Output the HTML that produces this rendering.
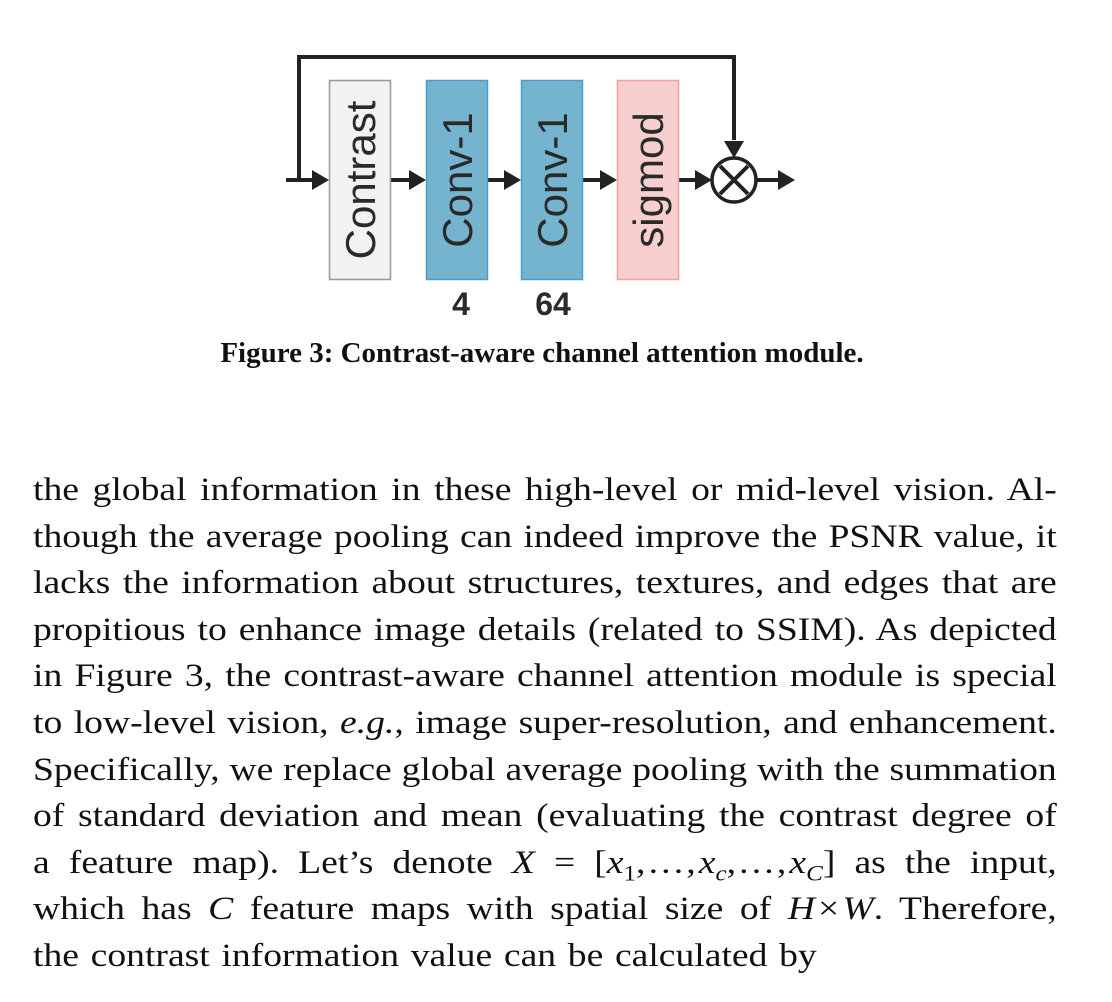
<!DOCTYPE html>
<html><head><meta charset="utf-8"><style>
html,body{margin:0;padding:0;background:#fff;width:1112px;height:1002px;overflow:hidden}
.p{position:absolute;left:33px;width:898px;font-family:"Liberation Serif",serif;font-size:33px;color:#111;transform:scaleX(1.14);transform-origin:0 0}
.l{height:46.6px;line-height:46.6px;text-align:justify;text-align-last:justify;white-space:nowrap}
.l.last{text-align-last:left;word-spacing:2px}
</style></head><body>
<svg width="1112" height="420" style="position:absolute;left:0;top:0" xmlns="http://www.w3.org/2000/svg">
<g stroke="#222" stroke-width="4" fill="none">
<path d="M286,180 H312"/><path d="M299,180 V57 H734 V140"/>
<path d="M391,180 H410"/><path d="M488,180 H505"/><path d="M583,180 H601"/><path d="M679,180 H697"/><path d="M757,180 H780"/>
<circle cx="734" cy="180" r="22" stroke-width="3.5"/>
<path d="M720,166 L748,194 M748,166 L720,194" stroke-width="4"/>
</g>
<g fill="#222">
<path d="M329,180 l-17,-10 v20z"/><path d="M426,180 l-17,-10 v20z"/><path d="M521,180 l-17,-10 v20z"/><path d="M617,180 l-17,-10 v20z"/><path d="M712,180 l-17,-10 v20z"/><path d="M795,180 l-17,-10 v20z"/><path d="M734,158 l-10,-17 h20z"/>
</g>
<rect x="329.5" y="80.5" width="61" height="199" fill="#f2f2f2" stroke="#999" stroke-width="1.5"/>
<rect x="426.5" y="80.5" width="61" height="199" fill="#74b4cf" stroke="#4a9bd0" stroke-width="1.5"/>
<rect x="521.5" y="80.5" width="61" height="199" fill="#74b4cf" stroke="#4a9bd0" stroke-width="1.5"/>
<rect x="617.5" y="80.5" width="61" height="199" fill="#f7cfcf" stroke="#f0a0a0" stroke-width="1.5"/>
<g font-family="Liberation Sans, sans-serif" font-size="42" fill="#2a2a2a" text-anchor="middle">
<text transform="translate(375,180) rotate(-90)">Contrast</text>
<text transform="translate(472,180) rotate(-90)">Conv-1</text>
<text transform="translate(567,180) rotate(-90)">Conv-1</text>
<text transform="translate(663,180) rotate(-90)">sigmod</text>
</g>
<g font-family="Liberation Sans, sans-serif" font-size="32" font-weight="bold" fill="#2a2a2a" text-anchor="middle">
<text x="461" y="315">4</text><text x="553" y="315">64</text>
</g>
<text x="542" y="362" text-anchor="middle" font-family="Liberation Serif, serif" font-size="29" font-weight="bold" fill="#111">Figure 3: Contrast-aware channel attention module.</text>
</svg>
<div class="p" style="top:467px">
<div class="l">the global information in these high-level or mid-level vision. Al-</div>
<div class="l">though the average pooling can indeed improve the PSNR value, it</div>
<div class="l">lacks the information about structures, textures, and edges that are</div>
<div class="l">propitious to enhance image details (related to SSIM). As depicted</div>
<div class="l">in Figure 3, the contrast-aware channel attention module is special</div>
<div class="l">to low-level vision, <i>e.g.</i>, image super-resolution, and enhancement.</div>
<div class="l">Specifically, we replace global average pooling with the summation</div>
<div class="l">of standard deviation and mean (evaluating the contrast degree of</div>
<div class="l">a feature map). Let’s denote <i>X</i> = [<i>x</i><sub style="font-size:22px">1</sub>,&#8202;.&#8202;.&#8202;.&#8202;,&#8202;<i>x<sub style="font-size:22px">c</sub></i>,&#8202;.&#8202;.&#8202;.&#8202;,&#8202;<i>x<sub style="font-size:22px">C</sub></i>] as the input,</div>
<div class="l">which has <i>C</i> feature maps with spatial size of <i>H</i>&#8202;×&#8202;<i>W</i>. Therefore,</div>
<div class="l last">the contrast information value can be calculated by</div>
</div>
</body></html>
